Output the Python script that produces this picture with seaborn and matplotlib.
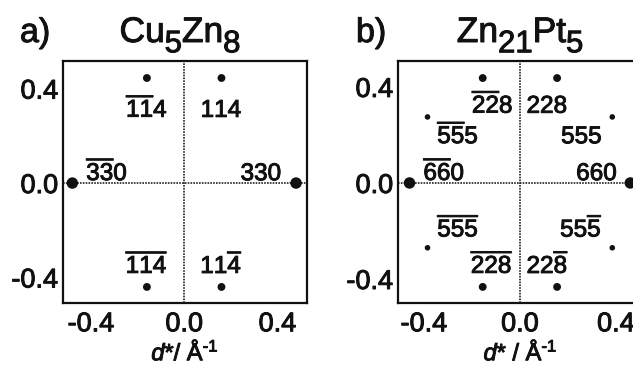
import numpy as np
import pandas as pd
import matplotlib
matplotlib.use("Agg")
import matplotlib.pyplot as plt
import matplotlib.patheffects as pe
from matplotlib.transforms import IdentityTransform
import seaborn as sns

sns.set_style("white")
plt.rcParams["font.family"] = ["Liberation Sans", "DejaVu Sans"]
plt.rcParams["mathtext.fontset"] = "custom"
plt.rcParams["mathtext.rm"] = "Liberation Sans"
plt.rcParams["mathtext.it"] = "Liberation Sans:italic"
plt.rcParams["mathtext.bf"] = "Liberation Sans:bold"
plt.rcParams["mathtext.default"] = "regular"
plt.rcParams["axes.unicode_minus"] = False

# ---- reflections in the (d*_x, d*_y) plane ----
# Cu5Zn8
cu_hkl = [r"$\overline{11}4$", r"$114$", r"$\overline{33}0$", r"$330$",
          r"$\overline{114}$", r"$11\overline{4}$"]
cu_x = [-0.16, 0.16, -0.48, 0.48, -0.16, 0.16]
cu_y = [0.445, 0.445, 0.0, 0.0, -0.44, -0.44]
cu_int = ["medium", "medium", "strong", "strong", "medium", "medium"]

# Zn21Pt5
zp_hkl = [r"$\overline{22}8$", r"$228$",
          r"$\overline{55}5$", r"$555$",
          r"$\overline{66}0$", r"$660$",
          r"$\overline{555}$", r"$55\overline{5}$",
          r"$\overline{228}$", r"$22\overline{8}$"]
zp_x = [-0.155, 0.155, -0.385, 0.385, -0.46, 0.46, -0.385, 0.385, -0.155, 0.155]
zp_y = [0.437, 0.437, 0.275, 0.275, 0.0, 0.0, -0.27, -0.27, -0.433, -0.433]
zp_int = ["medium", "medium", "weak", "weak", "strong", "strong",
          "weak", "weak", "medium", "medium"]

ticks = [-0.4, 0.0, 0.4]
tick_labels = ["-0.4", "0.0", "0.4"]

# compound names as (text, is_subscript) pieces
cu_name = [("Cu", False), ("5", True), ("Zn", False), ("8", True)]
zp_name = [("Zn", False), ("21", True), ("Pt", False), ("5", True)]

cu_xlabel = r"$\mathit{d}$*/ Å$^{\text{-1}}$"
zp_xlabel = r"$\mathit{d}$* / Å$^{\text{-1}}$"

# ---- styling ----
INK = "#111111"
heavy = [pe.withStroke(linewidth=0.7, foreground=INK)]
marker_sizes = {"weak": 16, "medium": 32, "strong": 68}
# label placement per reflection: (dx pt, dy pt, horizontal alignment)
cu_place = [(0, -28, "center"), (0, -28, "center"),
            (10, 2, "left"), (-10, 2, "right"),
            (0, 10, "center"), (0, 10, "center")]
zp_place = [(22, -25, "right"), (-22, -25, "left"),
            (7, -19, "left"), (-7, -19, "right"),
            (10, 2, "left"), (-9, 2, "right"),
            (7, 8, "left"), (-7, 8, "right"),
            (22, 10, "right"), (-22, 10, "left")]

W, H = 633, 369
fig = plt.figure(figsize=(W / 100, H / 100), dpi=100)
fig.patch.set_facecolor("white")


def px_axes(left, top, right, bottom):
    return fig.add_axes([left / W, 1 - bottom / H, (right - left) / W, (bottom - top) / H])


def draw_panel(ax, hkl, xs, ys, inten, place, xlim, ylim, xlabel):
    df = pd.DataFrame({"x": xs, "y": ys, "intensity": inten, "hkl": hkl})
    ax.axhline(0, color="#222222", lw=1.2, ls=(0, (1, 0.7)), zorder=1)
    ax.axvline(0, color="#222222", lw=1.2, ls=(0, (1, 0.7)), zorder=1)
    sns.scatterplot(data=df, x="x", y="y", size="intensity", sizes=marker_sizes,
                    color=INK, edgecolor="none", legend=False, ax=ax,
                    zorder=3, clip_on=False)
    for (_, row), (dx, dy, ha) in zip(df.iterrows(), place):
        ax.annotate(row["hkl"], (row["x"], row["y"]), xytext=(dx, dy),
                    textcoords="offset points", ha=ha, va="baseline",
                    fontsize=17.5, color=INK, path_effects=heavy)
    ax.set_xlim(*xlim)
    ax.set_ylim(*ylim)
    ax.set_xticks(ticks)
    ax.set_xticklabels(tick_labels)
    ax.set_yticks(ticks)
    ax.set_yticklabels(tick_labels)
    ax.tick_params(axis="both", which="major", direction="out", length=3,
                   width=1.2, color=INK, labelsize=19.5, labelcolor=INK)
    ax.tick_params(axis="y", pad=0.5)
    ax.tick_params(axis="x", pad=3)
    for lab in ax.get_xticklabels() + ax.get_yticklabels():
        lab.set_path_effects(heavy)
    ax.set_xlabel(xlabel, fontsize=17, labelpad=2, color=INK, path_effects=heavy)
    ax.set_ylabel("")
    for s in ax.spines.values():
        s.set_linewidth(1.6)
        s.set_color(INK)
        s.set_visible(True)


def formula(xc, baseline, parts, size, sub_scale=0.88, sub_drop=0.29):
    """Chemical formula with near full-size, lowered subscripts, centred on xc (px)."""
    renderer = fig.canvas.get_renderer()
    arts = []
    for txt, sub in parts:
        t = fig.text(0, 0, txt, fontsize=size * sub_scale if sub else size,
                     transform=IdentityTransform(), ha="left", va="baseline",
                     color=INK, path_effects=heavy)
        arts.append((t, sub, t.get_window_extent(renderer).width))
    x = xc - sum(w for _, _, w in arts) / 2
    for t, sub, w in arts:
        drop = sub_drop * size * 100 / 72 if sub else 0
        t.set_position((x, (H - baseline) - drop))
        x += w


ax_a = px_axes(63, 61, 307, 303)
draw_panel(ax_a, cu_hkl, cu_x, cu_y, cu_int, cu_place,
           (-0.52, 0.527), (-0.508, 0.517), cu_xlabel)

ax_b = px_axes(398, 61, 643, 303)
draw_panel(ax_b, zp_hkl, zp_x, zp_y, zp_int, zp_place,
           (-0.508, 0.513), (-0.5, 0.508), zp_xlabel)

# panel letters and compound names
fig.text(20 / W, 1 - 42 / H, "a)", fontsize=24.5, va="baseline", ha="left",
         color=INK, path_effects=heavy)
fig.text(356 / W, 1 - 42 / H, "b)", fontsize=24.5, va="baseline", ha="left",
         color=INK, path_effects=heavy)
formula(180, 42, cu_name, 25.5)
formula(520, 42, zp_name, 25.5)

fig.savefig("out.png", dpi=100, facecolor="white")
